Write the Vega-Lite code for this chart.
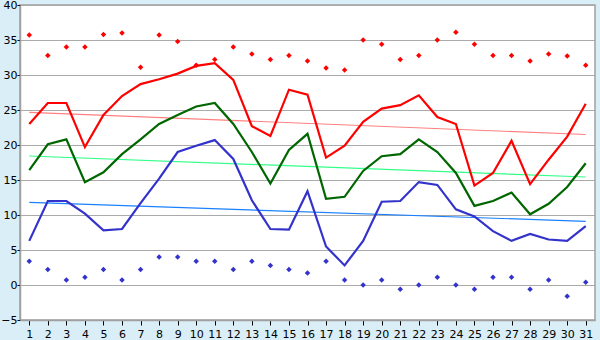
{
  "$schema": "https://vega.github.io/schema/vega-lite/v6.json",
  "autosize": "none",
  "width": 575,
  "height": 315,
  "padding": {"left": 20, "top": 5, "right": 5, "bottom": 20},
  "background": "#d9eef6",
  "config": {
    "view": {"stroke": "#a0a0a0", "strokeWidth": 1.5, "fill": "#ffffff"},
    "axis": {"labelFont": "DejaVu Sans", "labelFontSize": 11, "labelColor": "#000000", "tickColor": "#000000", "domainColor": "#a0a0a0", "domainWidth": 1.5, "gridColor": "#aaaaaa", "gridOpacity": 1, "title": null}
  },
  "datasets": {
    "lines": [
      {"day":1,"s":"max","v":23.0},{"day":2,"s":"max","v":26.0},{"day":3,"s":"max","v":26.0},{"day":4,"s":"max","v":19.7},{"day":5,"s":"max","v":24.3},{"day":6,"s":"max","v":27.0},{"day":7,"s":"max","v":28.7},{"day":8,"s":"max","v":29.4},{"day":9,"s":"max","v":30.2},{"day":10,"s":"max","v":31.3},{"day":11,"s":"max","v":31.7},{"day":12,"s":"max","v":29.3},{"day":13,"s":"max","v":22.7},{"day":14,"s":"max","v":21.3},{"day":15,"s":"max","v":27.9},{"day":16,"s":"max","v":27.2},{"day":17,"s":"max","v":18.2},{"day":18,"s":"max","v":19.9},{"day":19,"s":"max","v":23.3},{"day":20,"s":"max","v":25.2},{"day":21,"s":"max","v":25.7},{"day":22,"s":"max","v":27.1},{"day":23,"s":"max","v":24.0},{"day":24,"s":"max","v":23.0},{"day":25,"s":"max","v":14.2},{"day":26,"s":"max","v":16.0},{"day":27,"s":"max","v":20.6},{"day":28,"s":"max","v":14.4},{"day":29,"s":"max","v":17.9},{"day":30,"s":"max","v":21.2},{"day":31,"s":"max","v":25.9},
      {"day":1,"s":"mean","v":16.4},{"day":2,"s":"mean","v":20.1},{"day":3,"s":"mean","v":20.8},{"day":4,"s":"mean","v":14.7},{"day":5,"s":"mean","v":16.1},{"day":6,"s":"mean","v":18.7},{"day":7,"s":"mean","v":20.8},{"day":8,"s":"mean","v":23.0},{"day":9,"s":"mean","v":24.3},{"day":10,"s":"mean","v":25.5},{"day":11,"s":"mean","v":26.0},{"day":12,"s":"mean","v":23.0},{"day":13,"s":"mean","v":19.0},{"day":14,"s":"mean","v":14.5},{"day":15,"s":"mean","v":19.3},{"day":16,"s":"mean","v":21.6},{"day":17,"s":"mean","v":12.3},{"day":18,"s":"mean","v":12.6},{"day":19,"s":"mean","v":16.3},{"day":20,"s":"mean","v":18.4},{"day":21,"s":"mean","v":18.7},{"day":22,"s":"mean","v":20.8},{"day":23,"s":"mean","v":19.0},{"day":24,"s":"mean","v":16.0},{"day":25,"s":"mean","v":11.3},{"day":26,"s":"mean","v":12.0},{"day":27,"s":"mean","v":13.2},{"day":28,"s":"mean","v":10.1},{"day":29,"s":"mean","v":11.6},{"day":30,"s":"mean","v":14.0},{"day":31,"s":"mean","v":17.4},
      {"day":1,"s":"min","v":6.3},{"day":2,"s":"min","v":12.0},{"day":3,"s":"min","v":12.0},{"day":4,"s":"min","v":10.2},{"day":5,"s":"min","v":7.8},{"day":6,"s":"min","v":8.0},{"day":7,"s":"min","v":11.7},{"day":8,"s":"min","v":15.2},{"day":9,"s":"min","v":19.0},{"day":10,"s":"min","v":19.9},{"day":11,"s":"min","v":20.7},{"day":12,"s":"min","v":18.0},{"day":13,"s":"min","v":12.1},{"day":14,"s":"min","v":8.0},{"day":15,"s":"min","v":7.9},{"day":16,"s":"min","v":13.4},{"day":17,"s":"min","v":5.5},{"day":18,"s":"min","v":2.8},{"day":19,"s":"min","v":6.3},{"day":20,"s":"min","v":11.9},{"day":21,"s":"min","v":12.0},{"day":22,"s":"min","v":14.7},{"day":23,"s":"min","v":14.3},{"day":24,"s":"min","v":10.8},{"day":25,"s":"min","v":9.8},{"day":26,"s":"min","v":7.7},{"day":27,"s":"min","v":6.3},{"day":28,"s":"min","v":7.3},{"day":29,"s":"min","v":6.5},{"day":30,"s":"min","v":6.3},{"day":31,"s":"min","v":8.4}
    ],
    "trends": [
      {"day":1,"s":"tmax","v":24.67},{"day":31,"s":"tmax","v":21.5},
      {"day":1,"s":"tmean","v":18.43},{"day":31,"s":"tmean","v":15.43},
      {"day":1,"s":"tmin","v":11.8},{"day":31,"s":"tmin","v":9.1}
    ],
    "records": [
      {"day":1,"s":"recmax","v":35.7},{"day":2,"s":"recmax","v":32.8},{"day":3,"s":"recmax","v":34.0},{"day":4,"s":"recmax","v":34.0},{"day":5,"s":"recmax","v":35.8},{"day":6,"s":"recmax","v":36.0},{"day":7,"s":"recmax","v":31.1},{"day":8,"s":"recmax","v":35.7},{"day":9,"s":"recmax","v":34.8},{"day":10,"s":"recmax","v":31.4},{"day":11,"s":"recmax","v":32.2},{"day":12,"s":"recmax","v":34.0},{"day":13,"s":"recmax","v":33.0},{"day":14,"s":"recmax","v":32.2},{"day":15,"s":"recmax","v":32.8},{"day":16,"s":"recmax","v":32.0},{"day":17,"s":"recmax","v":31.0},{"day":18,"s":"recmax","v":30.7},{"day":19,"s":"recmax","v":35.0},{"day":20,"s":"recmax","v":34.4},{"day":21,"s":"recmax","v":32.2},{"day":22,"s":"recmax","v":32.8},{"day":23,"s":"recmax","v":35.0},{"day":24,"s":"recmax","v":36.1},{"day":25,"s":"recmax","v":34.4},{"day":26,"s":"recmax","v":32.8},{"day":27,"s":"recmax","v":32.8},{"day":28,"s":"recmax","v":32.0},{"day":29,"s":"recmax","v":33.0},{"day":30,"s":"recmax","v":32.7},{"day":31,"s":"recmax","v":31.4},
      {"day":1,"s":"recmin","v":3.4},{"day":2,"s":"recmin","v":2.2},{"day":3,"s":"recmin","v":0.7},{"day":4,"s":"recmin","v":1.1},{"day":5,"s":"recmin","v":2.2},{"day":6,"s":"recmin","v":0.7},{"day":7,"s":"recmin","v":2.2},{"day":8,"s":"recmin","v":4.0},{"day":9,"s":"recmin","v":4.0},{"day":10,"s":"recmin","v":3.4},{"day":11,"s":"recmin","v":3.4},{"day":12,"s":"recmin","v":2.2},{"day":13,"s":"recmin","v":3.4},{"day":14,"s":"recmin","v":2.8},{"day":15,"s":"recmin","v":2.2},{"day":16,"s":"recmin","v":1.7},{"day":17,"s":"recmin","v":3.4},{"day":18,"s":"recmin","v":0.7},{"day":19,"s":"recmin","v":0.0},{"day":20,"s":"recmin","v":0.7},{"day":21,"s":"recmin","v":-0.6},{"day":22,"s":"recmin","v":0.0},{"day":23,"s":"recmin","v":1.1},{"day":24,"s":"recmin","v":0.0},{"day":25,"s":"recmin","v":-0.6},{"day":26,"s":"recmin","v":1.1},{"day":27,"s":"recmin","v":1.1},{"day":28,"s":"recmin","v":-0.6},{"day":29,"s":"recmin","v":0.7},{"day":30,"s":"recmin","v":-1.6},{"day":31,"s":"recmin","v":0.4}
    ]
  },
  "encoding": {
    "x": {"field": "day", "type": "ordinal", "scale": {"type": "point", "padding": 0.5, "domain": [1,2,3,4,5,6,7,8,9,10,11,12,13,14,15,16,17,18,19,20,21,22,23,24,25,26,27,28,29,30,31]},
      "axis": {"labelAngle": 0, "tickSize": 5, "labelPadding": 3, "grid": false}},
    "y": {"field": "v", "type": "quantitative", "scale": {"domain": [-5, 40], "nice": false, "zero": false},
      "axis": {"values": [-5,0,5,10,15,20,25,30,35,40], "tickSize": 3, "labelPadding": 0, "grid": true}},
    "color": {"field": "s", "type": "nominal", "legend": null,
      "scale": {"domain": ["max","mean","min","tmax","tmean","tmin","recmax","recmin"],
                "range": ["#ff0000","#006600","#3333cc","#ff8080","#33ff88","#1a80ff","#ff0000","#3333cc"]}}
  },
  "layer": [
    {"data": {"name": "trends"}, "mark": {"type": "line", "strokeWidth": 1.2}, "encoding": {"detail": {"field": "s"}}},
    {"data": {"name": "lines"}, "mark": {"type": "line", "strokeWidth": 2.2}, "encoding": {"detail": {"field": "s"}}},
    {"data": {"name": "records"}, "mark": {"type": "point", "shape": "diamond", "filled": true, "size": 30, "opacity": 1}}
  ]
}
